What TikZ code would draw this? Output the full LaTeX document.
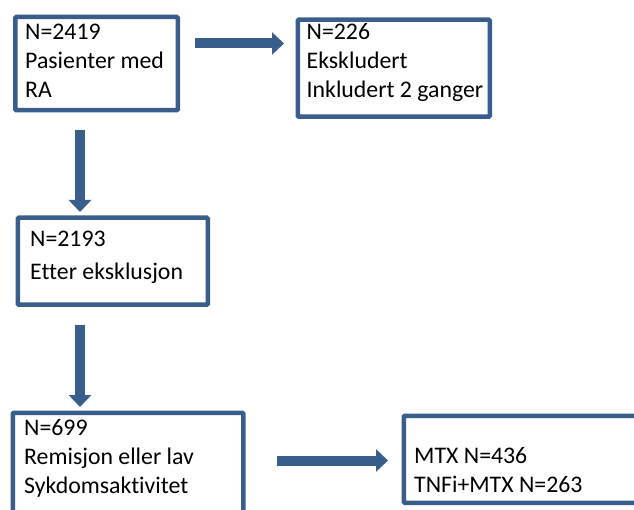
\documentclass[tikz,border=0pt]{standalone}
\usepackage{fontspec}
\setmainfont[Ligatures=NoCommon]{Carlito}
\usetikzlibrary{arrows.meta}
\definecolor{boxblue}{HTML}{3A5E8C}
\tikzset{
  box/.style={draw=boxblue, line width=4.5pt, rounded corners=1pt, fill=white, inner sep=0pt, anchor=north west},
  txt/.style={inner sep=0pt, align=left, anchor=base west, font=\fontsize{23.8pt}{29pt}\selectfont},
  blockarrow/.style={draw=boxblue, line width=10pt, -{Triangle[length=12pt, width=22pt]}},
}
\begin{document}
\begin{tikzpicture}[x=1pt, y=-1pt]
\useasboundingbox (0,0) rectangle (634,510);
\clip (0,0) rectangle (634,510);
% boxes
\node[box, minimum width=162.5pt, minimum height=93.3pt] (b1) at (13,14.7) {};
\node[box, minimum width=192pt, minimum height=97pt] (b2) at (295.5,17.5) {};
\node[box, minimum width=190pt, minimum height=87pt] (b3) at (15.5,215.5) {};
\node[box, minimum width=230.5pt, minimum height=110pt] (b4) at (10.5,410.5) {};
\node[box, minimum width=250pt, minimum height=87pt] (b5) at (401.5,413.5) {};
% texts (anchored at the baseline of their last line)
\node[txt] (t1) at (25,98) {N=2419\\Pasienter med\\RA};
\node[txt] (t2) at (306.5,97.5) {N=226\\Ekskludert\\Inkludert 2 ganger};
\node[txt, font=\fontsize{23.8pt}{33pt}\selectfont] (t3) at (30,280) {N=2193\\Etter eksklusjon};
\node[txt] (t4) at (24,493) {N=699\\Remisjon eller lav\\Sykdomsaktivitet};
\node[txt] (t5) at (414,492) {MTX N=436\\TNFi+MTX N=263};
% arrow end points
\coordinate (a1s) at (195,43.5);
\coordinate (a1e) at (284,43.5);
\coordinate (a2s) at (80,130);
\coordinate (a2e) at (80,212);
\coordinate (a3s) at (80,325);
\coordinate (a3e) at (80,407);
\coordinate (a4s) at (277,460.5);
\coordinate (a4e) at (388,460.5);
\draw[blockarrow] (a1s) -- (a1e);
\draw[blockarrow] (a2s) -- (a2e);
\draw[blockarrow] (a3s) -- (a3e);
\draw[blockarrow] (a4s) -- (a4e);
\end{tikzpicture}
\end{document}
